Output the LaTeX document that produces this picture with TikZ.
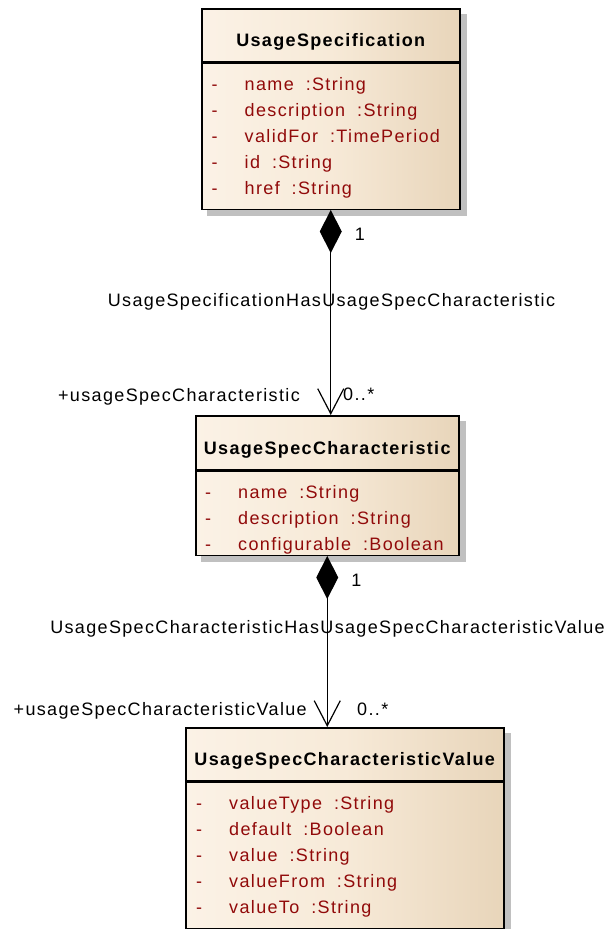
\documentclass[tikz,border=0pt]{standalone}
\usepackage{fontspec}
\setmainfont{Liberation Sans}[LetterSpace=7.5]
\usepackage{xcolor}
\usetikzlibrary{arrows.meta,backgrounds}

\definecolor{classlight}{RGB}{251,242,230}
\definecolor{classmid}{RGB}{247,234,216}
\definecolor{classdark}{RGB}{232,213,186}
\definecolor{attrred}{RGB}{145,10,10}
\definecolor{shadowgray}{RGB}{192,192,192}

\newcommand{\umlattr}[2]{\makebox[33pt][l]{-}#1\hspace{12pt}:#2}

\begin{document}
\begin{tikzpicture}[
    x=1pt, y=-1pt,
    classhead/.style={rectangle, draw, line width=1.5pt, left color=classlight, right color=classdark, middle color=classmid, font=\bfseries\fontsize{18}{26}\selectfont, text height=25pt, text depth=2pt, inner sep=0pt, anchor=north west},
    classbody/.style={rectangle, draw, line width=1.5pt, left color=classlight, right color=classdark, middle color=classmid, inner sep=0pt, anchor=north west},
    attrlist/.style={anchor=north west, inner sep=0pt, align=left, text=attrred, font=\fontsize{18}{26}\selectfont},
    lbl/.style={inner sep=0pt, font=\fontsize{18}{26}\selectfont},
    assoc/.style={line width=1.2pt, {Diamond[length=43pt,width=22pt]}-{Straight Barb[length=25pt,width=26pt]}}
]
\useasboundingbox (0,0) rectangle (607,929);

% classes
\node[classhead, minimum width=258pt, minimum height=53pt] (spec) at (201,8) {UsageSpecification};
\node[classbody, minimum width=258pt, minimum height=146pt] (specattr) at (spec.south west) {};
\node[attrlist] (specattrtext) at ([shift={(10.5,9.5)}]specattr.north west)
    {\strut\umlattr{name}{String}\\ \umlattr{description}{String}\\ \umlattr{validFor}{TimePeriod}\\ \umlattr{id}{String}\\ \umlattr{href}{String}};

\node[classhead, minimum width=263pt, minimum height=54pt] (charhead) at (195,415) {UsageSpecCharacteristic};
\node[classbody, minimum width=263pt, minimum height=84pt] (charattr) at (charhead.south west) {};
\node[attrlist] (charattrtext) at ([shift={(10,10)}]charattr.north west)
    {\strut\umlattr{name}{String}\\ \umlattr{description}{String}\\ \umlattr{configurable}{Boolean}};

\node[classhead, minimum width=318pt, minimum height=53pt] (valhead) at (185,727) {UsageSpecCharacteristicValue};
\node[classbody, minimum width=318pt, minimum height=146pt] (valattr) at (valhead.south west) {};
\node[attrlist] (valattrtext) at ([shift={(11,10)}]valattr.north west)
    {\strut\umlattr{valueType}{String}\\ \umlattr{default}{Boolean}\\ \umlattr{value}{String}\\ \umlattr{valueFrom}{String}\\ \umlattr{valueTo}{String}};

% shadows
\begin{scope}[on background layer]
\fill[shadowgray] ([shift={(6,6)}]spec.north west) rectangle ([shift={(6,6)}]specattr.south east);
\fill[shadowgray] ([shift={(6,6)}]charhead.north west) rectangle ([shift={(6,6)}]charattr.south east);
\fill[shadowgray] ([shift={(6,6)}]valhead.north west) rectangle ([shift={(6,6)}]valattr.south east);
\end{scope}

% associations
\draw[assoc] (specattr.south) -- (specattr.south |- charhead.north);
\draw[assoc] (charattr.south) -- (charattr.south |- valhead.north);

\node[lbl, anchor=base] (specone) at (360,240) {1};
\node[lbl, anchor=base] (specassoc) at (331.5,306) {UsageSpecificationHasUsageSpecCharacteristic};
\node[lbl, anchor=base east] (charrole) at (300,401) {+usageSpecCharacteristic};
\node[lbl, anchor=base west] (charmult) at (343,400) {0..*};

\node[lbl, anchor=base] (charone) at (356.5,586) {1};
\node[lbl, anchor=base] (charassoc) at (327.5,633) {UsageSpecCharacteristicHasUsageSpecCharacteristicValue};
\node[lbl, anchor=base east] (valrole) at (307,715) {+usageSpecCharacteristicValue};
\node[lbl, anchor=base west] (valmult) at (357,715) {0..*};
\end{tikzpicture}
\end{document}
